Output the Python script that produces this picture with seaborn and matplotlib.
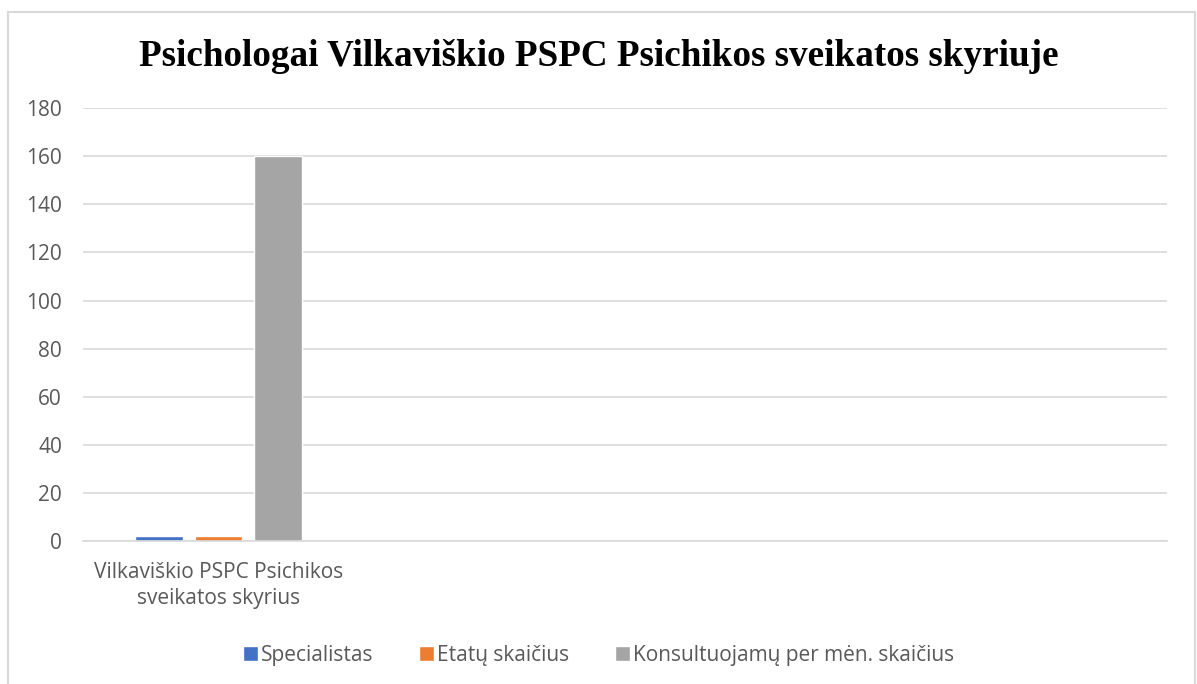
import numpy as np
import pandas as pd
import seaborn as sns
import matplotlib.pyplot as plt
from matplotlib.lines import Line2D

# data
categories = ["Vilkaviškio PSPC Psichikos\nsveikatos skyrius", " ", "  ", "   "]
series = ["Specialistas", "Etatų skaičius", "Konsultuojamų per mėn. skaičius"]
specialistas = [2, np.nan, np.nan, np.nan]
etatai = [2, np.nan, np.nan, np.nan]
konsultuojami = [160, np.nan, np.nan, np.nan]
yticks = [0, 20, 40, 60, 80, 100, 120, 140, 160, 180]

colors = ['#4472C4', '#ED7D31', '#A5A5A5']
txt_color = '#595959'
grid_color = '#D9D9D9'

df = pd.DataFrame({
    'cat': categories * 3,
    'serie': [s for s in series for _ in categories],
    'val': specialistas + etatai + konsultuojami,
})

sns.set_style('white')
plt.rcParams['font.family'] = ['Open Sans', 'DejaVu Sans']

fig = plt.figure(figsize=(11.97, 6.84), dpi=100)
ax = fig.add_axes([0.0693, 0.209, 0.9057, 0.633])

sns.barplot(data=df, x='cat', y='val', hue='serie', order=categories, hue_order=series,
            palette=colors, width=0.657, gap=0.2, ax=ax, legend=True, saturation=1)

ax.set_ylim(0, 180)
ax.set_yticks(yticks)
ax.set_xlim(-0.5, len(categories) - 0.5)
ax.set_xticks(range(len(categories)))
ax.set_xticklabels([c.strip() for c in categories], linespacing=1.3)
ax.tick_params(axis='both', length=0, colors=txt_color, labelsize=15)
ax.tick_params(axis='x', pad=15)
ax.tick_params(axis='y', pad=15)
ax.set_xlabel(None)
ax.set_ylabel(None)
ax.grid(axis='y', color=grid_color, linewidth=1.2)
ax.set_axisbelow(True)
for side in ['top', 'right', 'left']:
    ax.spines[side].set_visible(False)
ax.spines['bottom'].set_color(grid_color)
ax.spines['bottom'].set_linewidth(1.2)

handles, labels = ax.get_legend_handles_labels()
ax.legend_.remove()
fig.legend(handles, labels, loc='center', bbox_to_anchor=(0.5, 0.042), ncol=3, frameon=False,
           fontsize=15, handlelength=0.7, handleheight=0.7, handletextpad=0.15, columnspacing=2.2,
           labelcolor=txt_color)

fig.text(0.5, 0.917, 'Psichologai Vilkaviškio PSPC Psichikos sveikatos skyriuje', ha='center', va='center',
         fontsize=26.7, fontweight='bold', family='Liberation Serif', color='black')

# outer frame (left, top, right)
fc = '#D9D9D9'
fig.add_artist(Line2D([0.0071, 0.0071], [0, 0.983], color=fc, lw=1.5, transform=fig.transFigure))
fig.add_artist(Line2D([0.0071, 0.998], [0.983, 0.983], color=fc, lw=1.5, transform=fig.transFigure))
fig.add_artist(Line2D([0.998, 0.998], [0, 0.983], color=fc, lw=1.5, transform=fig.transFigure))

fig.savefig('out.png', dpi=100)
